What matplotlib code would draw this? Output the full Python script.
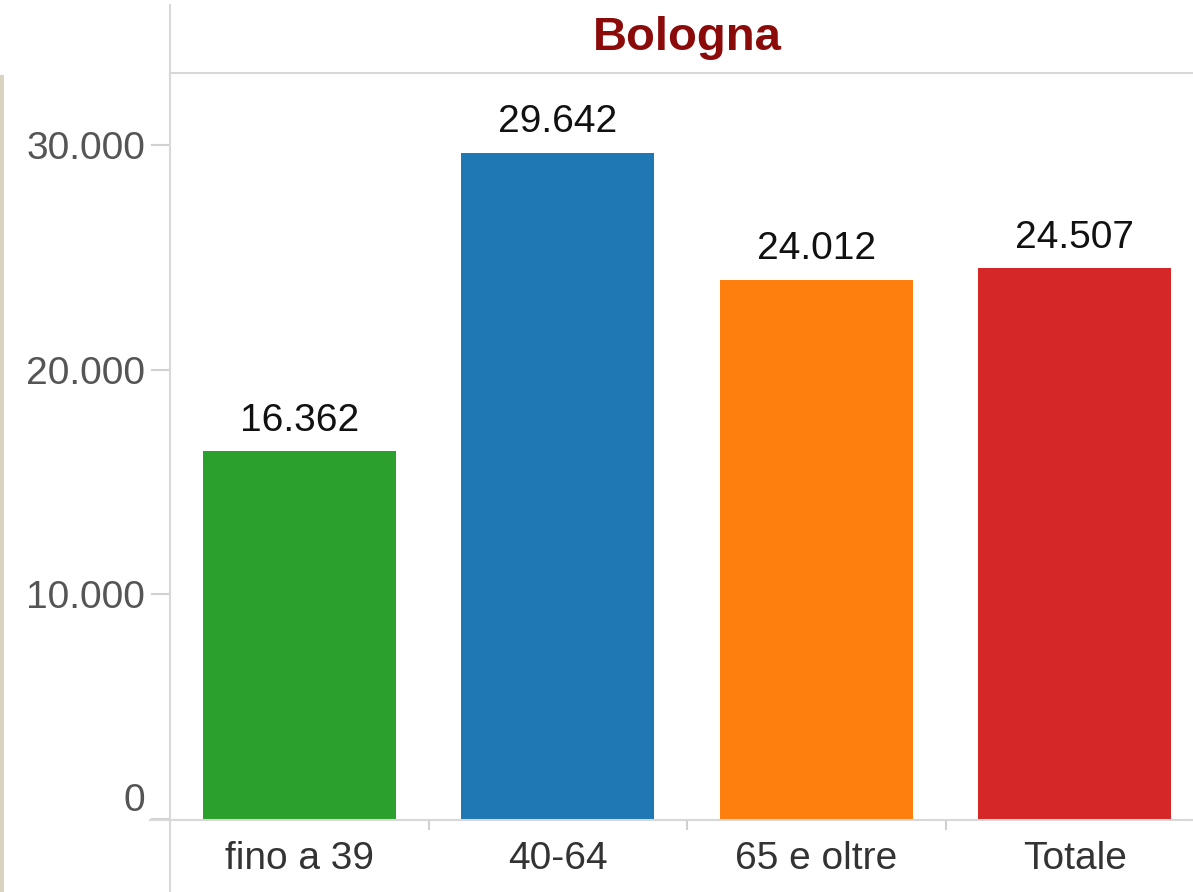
import matplotlib.pyplot as plt
from matplotlib.lines import Line2D
from matplotlib.patches import Rectangle

categories = ['fino a 39', '40-64', '65 e oltre', 'Totale']
values = [16362, 29642, 24012, 24507]
colors = ['#2ca02c', '#1f77b4', '#ff7f0e', '#d62728']
yticks = [0, 10000, 20000, 30000]
ytick_labels = ['0', '10.000', '20.000', '30.000']
value_labels = ['16.362', '29.642', '24.012', '24.507']

W, H = 1193, 892
plt.rcParams['font.family'] = ['Liberation Sans', 'DejaVu Sans']
fig = plt.figure(figsize=(W / 100, H / 100), dpi=100)

def fx(px):
    return px / W

def fy(py):
    return 1 - py / H

ax = fig.add_axes([fx(170), fy(819), fx(1193) - fx(170), fy(73) - fy(819)])

x = range(len(categories))
ax.bar(x, values, width=0.747, color=colors)
for i, v in enumerate(values):
    ax.annotate(value_labels[i], (i, v), xytext=(0, 15), textcoords='offset points',
                ha='center', va='baseline', fontsize=28, color='#111111')

ax.set_xlim(-0.5, 3.457)
ax.set_ylim(0, 33204)

ax.set_yticks(yticks)
ax.set_yticklabels(ytick_labels, fontsize=28, color='#555555')
ax.get_yticklabels()[0].set_va('bottom')
ax.tick_params(axis='y', length=14, color='#d0d0d0', width=1.5, pad=4)

ax.set_xticks(list(x))
ax.set_xticklabels(categories, fontsize=28, color='#333333')
ax.tick_params(axis='x', which='major', length=0, pad=16)
ax.set_xticks([0.5, 1.5, 2.5], minor=True)
ax.tick_params(axis='x', which='minor', length=8, color='#d0d0d0', width=1.5, pad=0)

for s in ['left', 'right', 'bottom']:
    ax.spines[s].set_visible(False)
ax.spines['top'].set_color('#d8d8d8')
ax.spines['top'].set_linewidth(1.5)

# frame lines outside the axes
fig.add_artist(Line2D([fx(170), fx(170)], [fy(5), fy(892)], color='#d8d8d8', lw=1.5))
fig.add_artist(Line2D([fx(150), fx(1193)], [fy(820), fy(820)], color='#d8d8d8', lw=1.5))
fig.add_artist(Rectangle((0, 0), fx(4), fy(75), color='#d8d4c0', lw=0))

fig.text(fx(687), fy(38), 'Bologna', ha='center', va='center', fontsize=34,
         fontweight='bold', color='#8b0a0a')

plt.savefig('out.png', dpi=100)
